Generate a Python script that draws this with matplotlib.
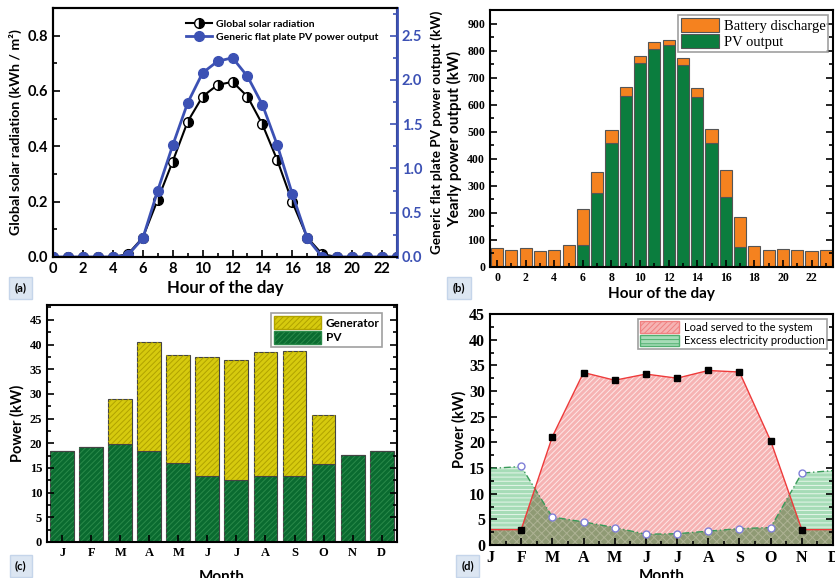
import numpy as np
import matplotlib
matplotlib.use("Agg")
import matplotlib.pyplot as plt
from matplotlib.patches import Patch
from matplotlib.lines import Line2D
from matplotlib.ticker import MultipleLocator

SANS = "Lato"
SERIF = "Liberation Serif"

# (a) hourly radiation and PV output
hours = np.arange(24)
radiation = [0, 0, 0, 0, 0, 0.01, 0.07, 0.207, 0.345, 0.489, 0.58, 0.622,
             0.633, 0.58, 0.479, 0.349, 0.198, 0.07, 0.01, 0, 0, 0, 0, 0]
pv_power = [0, 0, 0, 0, 0, 0.02, 0.21, 0.75, 1.26, 1.74, 2.08, 2.21,
            2.25, 2.04, 1.72, 1.26, 0.71, 0.21, 0.0, 0, 0, 0, 0, 0]

# (b) yearly output by hour
pv_output = [0, 0, 0, 0, 0, 0, 80, 272, 458, 632, 755, 805,
             820, 746, 627, 460, 260, 75, 0, 0, 0, 0, 0, 0]
battery_total = [70, 62, 71, 58, 61, 82, 213, 350, 507, 667, 781, 831,
                 839, 771, 662, 509, 359, 185, 79, 62, 66, 64, 59, 62]
battery = [t - p for t, p in zip(battery_total, pv_output)]

# (c) monthly generation
months = ["J", "F", "M", "A", "M", "J", "J", "A", "S", "O", "N", "D"]
pv_month = [18.5, 19.2, 19.8, 18.4, 15.9, 13.4, 12.6, 13.3, 13.4, 15.7, 17.7, 18.5]
total_month = [18.5, 19.2, 28.9, 40.5, 37.8, 37.5, 36.8, 38.5, 38.6, 25.8, 17.7, 18.5]
generator = [t - p for t, p in zip(total_month, pv_month)]

# (d) load vs excess electricity
load = [3.0, 3.0, 21.1, 33.6, 32.1, 33.3, 32.5, 34.0, 33.7, 20.3, 3.0, 3.0]
excess = [14.9, 15.3, 5.45, 4.5, 3.4, 2.1, 2.2, 2.7, 3.2, 3.4, 14.0, 14.5]

plt.rcParams["hatch.linewidth"] = 0.7
fig = plt.figure(figsize=(8.35, 5.78), dpi=100)


def style_ticks(ax, font, size, weight="bold"):
    for lab in ax.get_xticklabels() + ax.get_yticklabels():
        lab.set_fontfamily(font)
        lab.set_fontsize(size)
        lab.set_fontweight(weight)
    for s in ax.spines.values():
        s.set_linewidth(1.5)


def panel_tag(x, y, txt):
    fig.text(x, y, txt, fontfamily=SANS, fontweight="bold", fontsize=8,
             ha="center", va="center",
             bbox=dict(boxstyle="square,pad=0.5", facecolor="#dce6f2", edgecolor="#c5d5ea"))


# ---------------- (a) ----------------
ax1 = fig.add_axes([0.0635, 0.5554, 0.412, 0.4308])
ax1.plot(hours, radiation, color="black", lw=1.5, marker="o", ms=7,
         fillstyle="right", markerfacecolor="black", markerfacecoloralt="white",
         markeredgecolor="black", markeredgewidth=1)
ax1.set_xlim(0, 23)
ax1.set_ylim(0, 0.9)
ax1.xaxis.set_major_locator(MultipleLocator(2))
ax1.xaxis.set_minor_locator(MultipleLocator(1))
ax1.yaxis.set_major_locator(MultipleLocator(0.2))
ax1.yaxis.set_minor_locator(MultipleLocator(0.1))
ax1.set_yticks(np.arange(0, 0.81, 0.2))
ax1.set_yticklabels([f"{v:.1f}" for v in np.arange(0, 0.81, 0.2)])
ax1.tick_params(which="both", direction="in", width=1.2, right=False, top=False)
ax1.tick_params(which="major", length=5)
ax1.tick_params(which="minor", length=3)
ax1.set_xlabel("Hour of the day", fontfamily=SANS, fontweight="bold", fontsize=12, labelpad=3)
ax1.set_ylabel("Global solar radiation (kWh / m²)", fontfamily=SANS, fontweight="bold",
               fontsize=10.2, labelpad=4)
style_ticks(ax1, SANS, 10.5)

ax1r = ax1.twinx()
blue = "#3c51b4"
ax1r.plot(hours, pv_power, color=blue, lw=2, marker="o", ms=7, markerfacecolor=blue,
          markeredgecolor=blue)
ax1r.set_ylim(0, 2.8125)
ax1r.yaxis.set_major_locator(MultipleLocator(0.5))
ax1r.yaxis.set_minor_locator(MultipleLocator(0.25))
ax1r.set_yticks(np.arange(0, 2.51, 0.5))
ax1r.set_yticklabels([f"{v:.1f}" for v in np.arange(0, 2.51, 0.5)])
ax1r.tick_params(which="both", direction="in", colors=blue, width=1.2)
ax1r.tick_params(which="major", length=5)
ax1r.tick_params(which="minor", length=3)
ax1r.set_ylabel("Generic flat plate PV power output (kW)", fontfamily=SANS,
                fontweight="bold", fontsize=9.7, labelpad=6)
style_ticks(ax1r, SANS, 10.5)
ax1r.spines["right"].set_color(blue)
ax1r.spines["right"].set_linewidth(2)

handles_a = [
    Line2D([], [], color="black", lw=1.5, marker="o", ms=7, fillstyle="right",
           markerfacecolor="black", markerfacecoloralt="white", markeredgecolor="black"),
    Line2D([], [], color=blue, lw=2, marker="o", ms=7, markerfacecolor=blue, markeredgecolor=blue),
]
ax1r.legend(handles_a, ["Global solar radiation", "Generic flat plate PV power output"],
            loc="upper left", bbox_to_anchor=(0.36, 0.99), frameon=False,
            prop=dict(family=SANS, weight="bold", size=7.5), handlelength=2.5,
            labelspacing=0.3, handletextpad=0.4)

# ---------------- (b) ----------------
ax2 = fig.add_axes([0.5868, 0.5381, 0.4108, 0.4446])
ax2.bar(hours, pv_output, width=0.85, color="#0b7d3e", edgecolor="#555555", lw=0.8,
        label="PV output")
ax2.bar(hours, battery, bottom=pv_output, width=0.85, color="#f5821f", edgecolor="#555555",
        lw=0.8, label="Battery discharge")
ax2.set_xlim(-0.5, 23.5)
ax2.set_ylim(0, 950)
ax2.set_xticks(np.arange(0, 23, 2))
ax2.xaxis.set_minor_locator(MultipleLocator(1))
ax2.yaxis.set_major_locator(MultipleLocator(100))
ax2.yaxis.set_minor_locator(MultipleLocator(50))
ax2.tick_params(which="both", direction="in", right=True, width=1.2)
ax2.tick_params(which="major", length=5)
ax2.tick_params(which="minor", length=3)
ax2.set_xlabel("Hour of the day", fontfamily=SANS, fontweight="bold", fontsize=11, labelpad=2)
ax2.set_ylabel("Yearly power output (kW)", fontfamily=SANS, fontweight="bold",
               fontsize=11, labelpad=4)
style_ticks(ax2, SERIF, 8.5)
h, l = ax2.get_legend_handles_labels()
leg = ax2.legend(h[::-1], l[::-1], loc="upper right", bbox_to_anchor=(0.995, 0.99),
                 prop=dict(family=SERIF, size=10.5), fancybox=False, edgecolor="#888888",
                 borderpad=0.2, labelspacing=0.05, handlelength=2.6, handleheight=1.1,
                 handletextpad=0.3, borderaxespad=0.2)
leg.get_frame().set_linewidth(1.2)

# ---------------- (c) ----------------
ax3 = fig.add_axes([0.0563, 0.0623, 0.4192, 0.41])
mx = np.arange(12)
green_c = "#0a6b30"
yellow_c = "#d6ca0e"
ax3.bar(mx, pv_month, width=0.82, color=green_c, edgecolor="#444444", lw=0.8)
ax3.bar(mx, pv_month, width=0.82, fill=False, edgecolor="#2a8a4a", hatch="//////", lw=0)
ax3.bar(mx, generator, bottom=pv_month, width=0.82, color=yellow_c, edgecolor="#444444", lw=0.8)
ax3.bar(mx, generator, bottom=pv_month, width=0.82, fill=False, edgecolor="#b0a200",
        hatch="//////", lw=0)
ax3.set_xlim(-0.52, 11.53)
ax3.set_ylim(0, 48)
ax3.set_xticks(mx)
ax3.set_xticklabels(months)
ax3.yaxis.set_major_locator(MultipleLocator(5))
ax3.yaxis.set_minor_locator(MultipleLocator(2.5))
ax3.tick_params(which="both", direction="in", right=True, width=1.2)
ax3.tick_params(which="major", length=5)
ax3.tick_params(which="minor", length=3)
ax3.set_xlabel("Month", fontfamily=SANS, fontweight="bold", fontsize=11, labelpad=8)
ax3.set_ylabel("Power (kW)", fontfamily=SANS, fontweight="bold", fontsize=10.5, labelpad=4)
style_ticks(ax3, SERIF, 9)
handles_c = [Patch(facecolor=yellow_c, edgecolor="#b0a200", hatch="//////"),
             Patch(facecolor=green_c, edgecolor="#2a8a4a", hatch="//////")]
leg = ax3.legend(handles_c, ["Generator", "PV"], loc="upper right", bbox_to_anchor=(0.975, 0.99),
                 prop=dict(family=SANS, weight="bold", size=8.5), fancybox=False,
                 edgecolor="#888888", borderpad=0.25, labelspacing=0.15, handlelength=4.0,
                 handleheight=1.3, handletextpad=0.4)
leg.get_frame().set_linewidth(1.2)

# ---------------- (d) ----------------
ax4 = fig.add_axes([0.5868, 0.0571, 0.4108, 0.3996])
xd = np.linspace(0, 11, 2201)
load_d = np.interp(xd, mx, load)
excess_d = np.interp(xd, mx, excess)
ax4.fill_between(xd, 0, excess_d, facecolor="#a6dcb7", edgecolor="#e6f6ea", hatch="----", lw=0)
ax4.fill_between(xd, 0, load_d, facecolor="#f6b3b3", edgecolor="#fde6e6", hatch="//////", lw=0)
ax4.fill_between(xd, 0, np.minimum(load_d, excess_d), facecolor="#8f9a74",
                 edgecolor="#aeb294", hatch="xxxx", lw=0)
ax4.plot(mx, excess, color="#3a9a5a", lw=1, ls=(0, (5, 2, 1, 2)), marker="o", ms=5,
         markerfacecolor="white", markeredgecolor="#8080d8", markevery=slice(1, 11))
ax4.plot(mx, load, color="#ee3b3b", lw=1, marker="s", ms=5, markerfacecolor="black",
         markeredgecolor="black", markevery=slice(1, 11))
ax4.set_xlim(0, 11)
ax4.set_ylim(0, 45)
ax4.set_xticks(mx)
ax4.set_xticklabels(months)
ax4.xaxis.set_minor_locator(MultipleLocator(0.5))
ax4.yaxis.set_major_locator(MultipleLocator(5))
ax4.yaxis.set_minor_locator(MultipleLocator(2.5))
ax4.tick_params(which="both", direction="in", right=True, width=1.2)
ax4.tick_params(which="major", length=5)
ax4.tick_params(which="minor", length=3)
ax4.set_xlabel("Month", fontfamily=SANS, fontweight="bold", fontsize=11, labelpad=2)
ax4.set_ylabel("Power (kW)", fontfamily=SANS, fontweight="bold", fontsize=10.5, labelpad=2)
style_ticks(ax4, SERIF, 11.5)
handles_d = [Patch(facecolor="#f6b3b3", edgecolor="#f08080", hatch="//////"),
             Patch(facecolor="#a6dcb7", edgecolor="#50b070", hatch="----")]
leg = ax4.legend(handles_d, ["Load served to the system", "Excess electricity production"],
                 loc="upper right", bbox_to_anchor=(0.99, 0.99),
                 prop=dict(family=SANS, size=8), fancybox=False, edgecolor="#888888",
                 borderpad=0.25, labelspacing=0.2, handlelength=3.5, handleheight=1.2,
                 handletextpad=0.4, borderaxespad=0.2)
leg.get_frame().set_linewidth(1.2)

panel_tag(0.025, 1 - 288 / 578, "(a)")
panel_tag(0.550, 1 - 288 / 578, "(b)")
panel_tag(0.025, 1 - 566 / 578, "(c)")
panel_tag(0.560, 1 - 566 / 578, "(d)")

fig.savefig("out.png", dpi=100)
